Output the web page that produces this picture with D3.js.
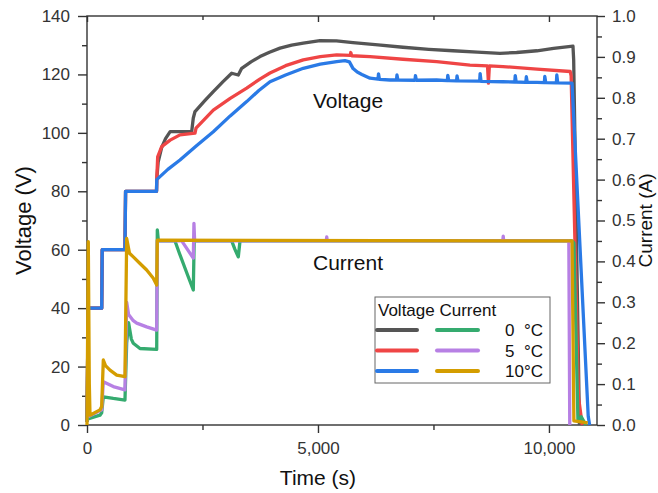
<!DOCTYPE html>
<html>
<head>
<meta charset="utf-8">
<script src="https://cdn.jsdelivr.net/npm/d3@7"></script>
<style>
  body { margin: 0; background: #fff; }
  svg { font-family: "Liberation Sans", Arial, sans-serif; }
</style>
</head>
<body>
<svg id="chart"></svg>
<script>
'use strict'

const width = 658,
      height = 493
const margin = {top: 16, right: 61, bottom: 68, left: 87}

// ---- data: [time (s), value] ----
// common stepped start shared by the three voltage curves
const stepStart = [[0, 1], [25, 40], [318, 40], [330, 60], [822, 60], [835, 80], [1505, 80]]

const volt0 = stepStart.concat([
  [1510, 84], [1540, 90], [1617, 95], [1700, 98], [1800, 100.4], [2266, 100.4], [2300, 105],
  [2338, 107.3], [2550, 111], [2734, 114.1], [2950, 117.6], [3132, 120.4], [3275, 119.8],
  [3349, 122.1], [3550, 124.3], [3745, 126.1], [3950, 127.6], [4178, 129], [4430, 130],
  [4682, 130.7], [5043, 131.6], [5400, 131.5], [5758, 130.9], [6300, 130.1], [6840, 129.3],
  [7400, 128.6], [7922, 128.1], [8450, 127.6], [8939, 127.2], [9300, 127.5], [9740, 128.1],
  [10100, 128.9], [10520, 129.7], [10535, 125], [10660, 0]
])
const volt5 = stepStart.concat([
  [1510, 84], [1530, 91.8], [1617, 95.3], [1800, 97.5], [2013, 99.3], [2338, 99.9], [2360, 101.6],
  [2734, 107.8], [3100, 111.8], [3457, 115.3], [3750, 118.5], [3961, 120.5], [4300, 123],
  [4682, 125], [5050, 126.1], [5405, 126.7], [5700, 126.5], [5710, 127.5], [5730, 126.4],
  [6126, 126.1], [6840, 125.2], [7569, 124.4], [8290, 123.2], [8670, 122.9], [8690, 117],
  [8710, 122.9], [9004, 122.7], [9740, 121.8], [10460, 121], [10480, 119.5], [10640, 9.5], [10720, 0]
])
const volt10 = stepStart.concat([
  [1510, 84], [1750, 87.5], [2013, 90.7], [2370, 95.6], [2734, 100.4], [3100, 105.8],
  [3457, 110.7], [3720, 114.5], [3961, 117.5], [4300, 119.8], [4682, 122.1], [5050, 123.5],
  [5405, 124.4], [5584, 124.7], [5680, 124.3], [5760, 122], [5850, 120.8], [5950, 120],
  [6126, 118.7], [6300, 118.4], [6310, 120.2], [6330, 118.3], [6558, 118.1], [6700, 118.1],
  [6710, 119.8], [6730, 118.1], [7100, 118], [7110, 119.6], [7130, 118], [7569, 118.1],
  [7800, 117.9], [7810, 119.7], [7830, 117.9], [8000, 117.8], [8010, 119.5], [8030, 117.8],
  [8500, 117.7], [8510, 120.3], [8530, 117.6], [9004, 117.5], [9260, 117.4], [9270, 119.6],
  [9290, 117.4], [9500, 117.3], [9510, 119.2], [9530, 117.3], [9740, 117.3], [9900, 117.2],
  [9910, 119.3], [9930, 117.2], [10160, 117.1], [10170, 119.8], [10190, 117.1], [10500, 117],
  [10850, 3], [10880, 0]
])

const curr0 = [
  [20, 0.015], [281, 0.024], [318, 0.03], [353, 0.069], [569, 0.065], [822, 0.061], [859, 0.2],
  [900, 0.25], [960, 0.21], [1002, 0.2], [1147, 0.187], [1509, 0.185], [1522, 0.477], [1545, 0.45],
  [1905, 0.45], [2000, 0.42], [2100, 0.39], [2200, 0.36], [2301, 0.33], [2320, 0.45], [3132, 0.45],
  [3200, 0.43], [3275, 0.411], [3312, 0.45], [10498, 0.45], [10541, 0.445], [10628, 0.01],
  [10700, 0.02], [10800, 0]
]
const curr5 = [
  [20, 0.02], [318, 0.037], [353, 0.106], [569, 0.094], [822, 0.086], [859, 0.3], [900, 0.27],
  [1002, 0.255], [1076, 0.249], [1292, 0.24], [1509, 0.232], [1522, 0.45], [2050, 0.45],
  [2301, 0.408], [2315, 0.493], [2330, 0.45], [5180, 0.45], [5190, 0.46], [5200, 0.45],
  [9000, 0.45], [9010, 0.462], [9020, 0.45], [10430, 0.45], [10450, 0]
]
const curr10 = [
  [0, 0], [28, 0.448], [50, 0.1], [65, 0.024], [281, 0.037], [318, 0.045], [353, 0.159],
  [400, 0.145], [498, 0.134], [643, 0.122], [822, 0.118], [859, 0.456], [920, 0.42], [1002, 0.411],
  [1147, 0.395], [1292, 0.379], [1435, 0.359], [1509, 0.342], [1522, 0.452], [10500, 0.45],
  [10540, 0.01], [10840, 0.005]
]

const voltSeries = [volt0, volt5, volt10]
const currSeries = [curr0, curr5, curr10]
const tempLabels = ["0  °C", "5  °C", "10°C"]
const voltColors = ["#555555", "#ef4545", "#2a7ae6"]
const currColors = ["#35ab6f", "#b780e4", "#d49d00"]

const xMax = 11040
const xTicks = [0, 5000, 10000]
const xMinor = [2500, 7500]

// ---- chart ----
const innerW = width - margin.left - margin.right,
      innerH = height - margin.top - margin.bottom

const svg = d3.select("#chart")
  .attr("width", width)
  .attr("height", height)

const g = svg.append("g")
  .attr("transform", "translate(" + margin.left + "," + margin.top + ")")

const x = d3.scaleLinear().domain([0, xMax]).range([0, innerW])
const yV = d3.scaleLinear().domain([0, 140]).range([innerH, 0])
const yA = d3.scaleLinear().domain([0, 1]).range([innerH, 0])

const axisColor = "#333"
const tickFont = "17px"

// minor ticks first
g.append("g")
  .attr("transform", "translate(0," + innerH + ")")
  .call(d3.axisBottom(x).tickValues(xMinor).tickSize(5).tickFormat(""))
g.append("g")
  .call(d3.axisTop(x).tickValues(xMinor).tickSize(-4).tickFormat(""))
g.append("g")
  .call(d3.axisTop(x).tickValues(xTicks).tickSize(-6).tickFormat(""))
g.append("g")
  .call(d3.axisLeft(yV).tickValues(d3.range(10, 140, 20)).tickSize(5).tickFormat(""))
g.append("g")
  .attr("transform", "translate(" + innerW + ",0)")
  .call(d3.axisRight(yA).tickValues(d3.range(0.05, 1, 0.1)).tickSize(5).tickFormat(""))

// major axes
g.append("g")
  .attr("transform", "translate(0," + innerH + ")")
  .call(d3.axisBottom(x).tickValues(xTicks).tickSize(8).tickPadding(9).tickFormat(d3.format(",")))
g.append("g")
  .call(d3.axisLeft(yV).tickValues(d3.range(0, 141, 20)).tickSize(9).tickPadding(8))
g.append("g")
  .attr("transform", "translate(" + innerW + ",0)")
  .call(d3.axisRight(yA).tickValues(d3.range(0, 1.01, 0.1)).tickSize(8).tickPadding(7).tickFormat(d3.format(".1f")))

g.selectAll(".domain, .tick line")
  .attr("stroke", axisColor)
  .attr("stroke-width", 1.4)
g.selectAll(".domain").attr("d", null)
g.selectAll(".tick text")
  .attr("fill", "#333")
  .style("font-size", tickFont)

// frame
g.append("rect")
  .attr("width", innerW)
  .attr("height", innerH)
  .attr("fill", "none")
  .attr("stroke", axisColor)
  .attr("stroke-width", 1.4)

// lines
const lineV = d3.line().x(d => x(d[0])).y(d => yV(d[1]))
const lineA = d3.line().x(d => x(d[0])).y(d => yA(d[1]))

const plot = g.append("g")
plot.selectAll("path.volt")
  .data(voltSeries)
  .enter().append("path")
    .attr("class", "volt")
    .attr("d", lineV)
    .attr("fill", "none")
    .attr("stroke", (d, i) => voltColors[i])
    .attr("stroke-width", 3.3)
    .attr("stroke-linejoin", "round")

plot.selectAll("path.curr")
  .data(currSeries)
  .enter().append("path")
    .attr("class", "curr")
    .attr("d", lineA)
    .attr("fill", "none")
    .attr("stroke", (d, i) => currColors[i])
    .attr("stroke-width", 3.3)
    .attr("stroke-linejoin", "round")

// annotations
g.append("text")
  .attr("x", 313 - margin.left).attr("y", 108 - margin.top)
  .style("font-size", "21px").attr("fill", "#111")
  .text("Voltage")
g.append("text")
  .attr("x", 313 - margin.left).attr("y", 270 - margin.top)
  .style("font-size", "21px").attr("fill", "#111")
  .text("Current")

// axis titles
svg.append("text")
  .attr("x", margin.left + x(5000)).attr("y", 485)
  .attr("text-anchor", "middle")
  .style("font-size", "21px").attr("fill", "#111")
  .text("Time (s)")
svg.append("text")
  .attr("transform", "translate(31," + (margin.top + yV(70)) + ") rotate(-90)")
  .attr("text-anchor", "middle")
  .style("font-size", "22px").attr("fill", "#111")
  .text("Voltage (V)")
svg.append("text")
  .attr("transform", "translate(652," + (margin.top + yA(0.5)) + ") rotate(-90)")
  .attr("text-anchor", "middle")
  .style("font-size", "19px").attr("fill", "#111")
  .text("Current (A)")

// legend
const legend = svg.append("g").attr("transform", "translate(375,297)")
legend.append("rect")
  .attr("width", 175).attr("height", 86)
  .attr("fill", "#fff")
  .attr("stroke", "#666").attr("stroke-width", 1)
legend.append("text")
  .attr("x", 3).attr("y", 19)
  .style("font-size", "17px").attr("fill", "#111")
  .text("Voltage Current")
const rows = legend.selectAll("g.row")
  .data(tempLabels)
  .enter().append("g")
    .attr("class", "row")
    .attr("transform", (d, i) => "translate(0," + (33 + i * 20.5) + ")")
rows.append("line")
  .attr("x1", 2).attr("x2", 42)
  .attr("stroke", (d, i) => voltColors[i])
  .attr("stroke-width", 4).attr("stroke-linecap", "round")
rows.append("line")
  .attr("x1", 62).attr("x2", 103)
  .attr("stroke", (d, i) => currColors[i])
  .attr("stroke-width", 4).attr("stroke-linecap", "round")
rows.append("text")
  .attr("x", 168).attr("y", 6)
  .attr("text-anchor", "end")
  .style("font-size", "17px").style("white-space", "pre").attr("fill", "#111")
  .text(d => d)
</script>
</body>
</html>
